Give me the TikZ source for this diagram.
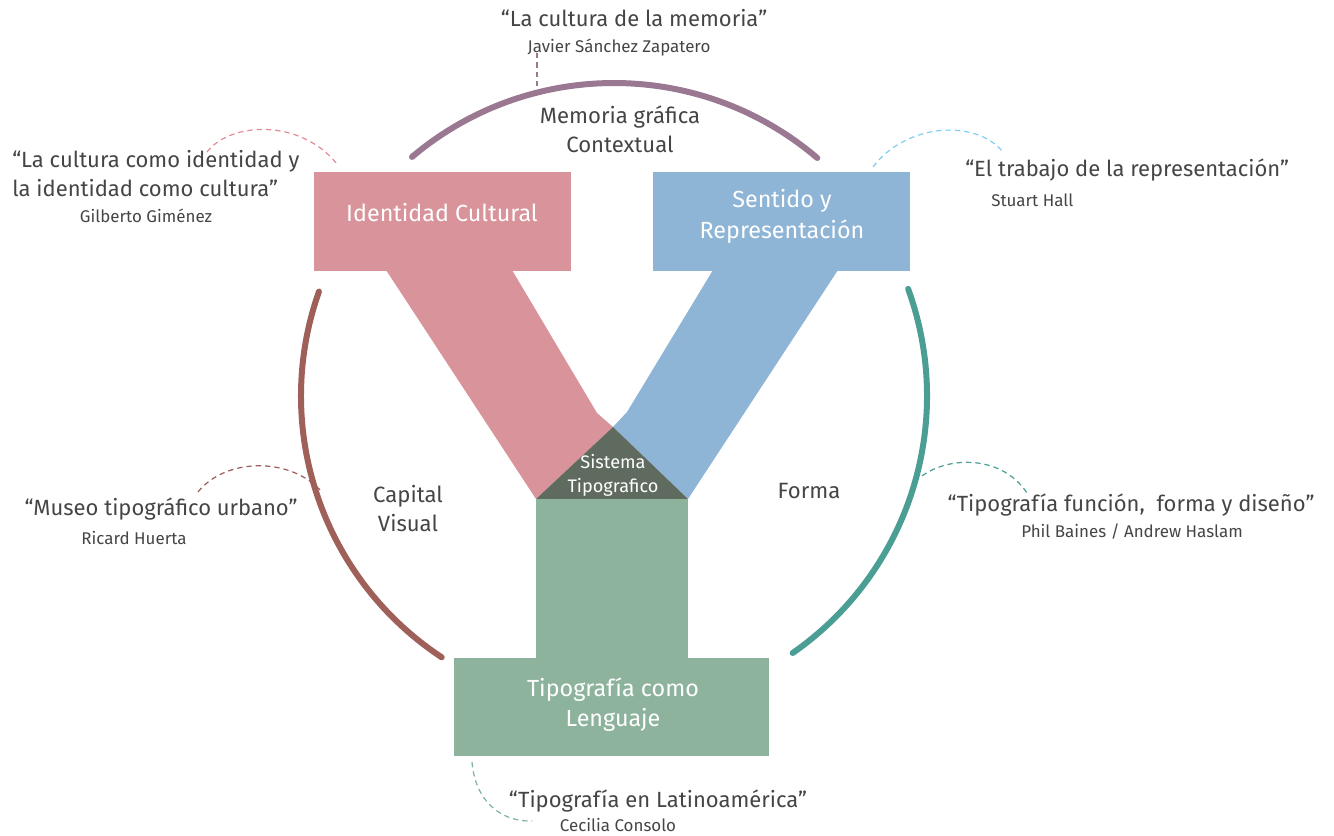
\documentclass[tikz,border=0pt]{standalone}
\usepackage{fontspec}
\setmainfont{Fira Sans}
\begin{document}
\begin{tikzpicture}[x=0.75pt,y=-0.75pt,
  txt/.style={text=textgray, inner sep=0pt, font=\fontsize{16.5}{21.5}\selectfont},
  author/.style={text=textgray, inner sep=0pt, font=\fontsize{12.7}{15}\selectfont},
  boxlabel/.style={text=white, inner sep=0pt, align=center, font=\fontsize{17.5}{23}\selectfont},
  inlabel/.style={text=textgray, inner sep=0pt, align=center, font=\fontsize{16.6}{22}\selectfont},
  ring/.style={line width=4.5pt, line cap=round},
  dashlink/.style={line width=0.9pt, dash pattern=on 4pt off 3pt}
]
\definecolor{textgray}{HTML}{454545}
\definecolor{pinkc}{HTML}{D9939A}
\definecolor{bluec}{HTML}{8FB5D6}
\definecolor{greenc}{HTML}{8DB39D}
\definecolor{darkc}{HTML}{5F6B5F}
\definecolor{purplec}{HTML}{9B7891}
\definecolor{brownc}{HTML}{A0605A}
\definecolor{tealc}{HTML}{4A9E94}
\definecolor{lightbluec}{HTML}{7FD0F0}
\definecolor{dpinkc}{HTML}{E08C94}
\definecolor{dbrownc}{HTML}{9A5E5A}
\definecolor{dgreenc}{HTML}{7FB0A0}
\useasboundingbox (0,0) rectangle (1334,835);

% ring arcs
\coordinate (c) at (614,396);
\draw[ring, purplec] ([shift={(-130.2:313)}]c) arc[start angle=-130.2, end angle=-49.5, radius=313];
\draw[ring, brownc] ([shift={(123.4:313)}]c) arc[start angle=123.4, end angle=199.5, radius=313];
\draw[ring, tealc] ([shift={(-20:313)}]c) arc[start angle=-20, end angle=55.2, radius=313];

% arms
\fill[pinkc] (386,270) -- (512,270) -- (597,413) -- (613,427) -- (536,499) -- cycle;
\fill[bluec] (713,270) -- (838,270) -- (688,499) -- (613,427) -- (627,412) -- cycle;
\fill[darkc] (613,427) -- (688,499) -- (536,499) -- cycle;
\fill[greenc] (536,498.5) rectangle (688,658);

% boxes
\fill[pinkc] (314,172) rectangle (571,271);
\fill[bluec] (653,172) rectangle (910,271);
\fill[greenc] (454,658) rectangle (769,756);

% box labels
\node[boxlabel] (idc) at (442,213) {Identidad Cultural};
\node[boxlabel] (syr) at (782,216.5) {Sentido y\\Representación};
\node[boxlabel] (tcl) at (613,704.5) {Tipografía como\\Lenguaje};
\node[text=white, inner sep=0pt, align=center, font=\fontsize{13.6}{18.5}\selectfont] (sis) at (613,475.5) {Sistema\\Tipografico};

% inner labels
\node[inlabel] (mgc) at (620,129.5) {Memoria gráfica\\Contextual};
\node[inlabel] (cv) at (408,508.5) {Capital\\Visual};
\node[inlabel] (fo) at (809,491) {Forma};

% quotes
\node[txt] (q1) at (634,18) {“La cultura de la memoria”};
\node[author] (a1) at (619,48) {Javier Sánchez Zapatero};
\node[txt, anchor=west, align=left] (q2) at (12,173.5) {“La cultura como identidad y\\la identidad como cultura”};
\node[author] (a2) at (146,216) {Gilberto Giménez};
\node[txt, anchor=west] (q3) at (965,170) {“El trabajo de la representación”};
\node[author, anchor=west] (a3) at (991,200) {Stuart Hall};
\node[txt] (q4) at (161,509) {“Museo tipográfico urbano”};
\node[author] (a4) at (134,538) {Ricard Huerta};
\node[txt] (q5) at (1131,505) {“Tipografía función,\ \ forma y diseño”};
\node[author] (a5) at (1132,532) {Phil Baines / Andrew Haslam};
\node[txt] (q6) at (658,801) {“Tipografía en Latinoamérica”};
\node[author] (a6) at (618,825) {Cecilia Consolo};

% dashed links
\coordinate (d1a) at (537,53); \coordinate (d1b) at (537,90);
\draw[dashlink, purplec] (d1a) -- (d1b);
\coordinate (d2a) at (207,152); \coordinate (d2b) at (337,164);
\draw[dashlink, dpinkc] (d2a) .. controls (230,122) and (300,118) .. (d2b);
\coordinate (d3a) at (873,167); \coordinate (d3b) at (1003,152);
\draw[dashlink, lightbluec] (d3a) .. controls (905,124) and (975,118) .. (d3b);
\coordinate (d4a) at (198,492); \coordinate (d4b) at (322,492);
\draw[dashlink, dbrownc] (d4a) .. controls (225,458) and (290,456) .. (d4b);
\coordinate (d5a) at (915,482); \coordinate (d5b) at (1027,493);
\draw[dashlink, tealc] (d5a) .. controls (940,456) and (1000,452) .. (d5b);
\coordinate (d6a) at (472,762); \coordinate (d6b) at (532,821);
\draw[dashlink, dgreenc] (d6a) .. controls (475,800) and (500,822) .. (d6b);
\end{tikzpicture}
\end{document}
